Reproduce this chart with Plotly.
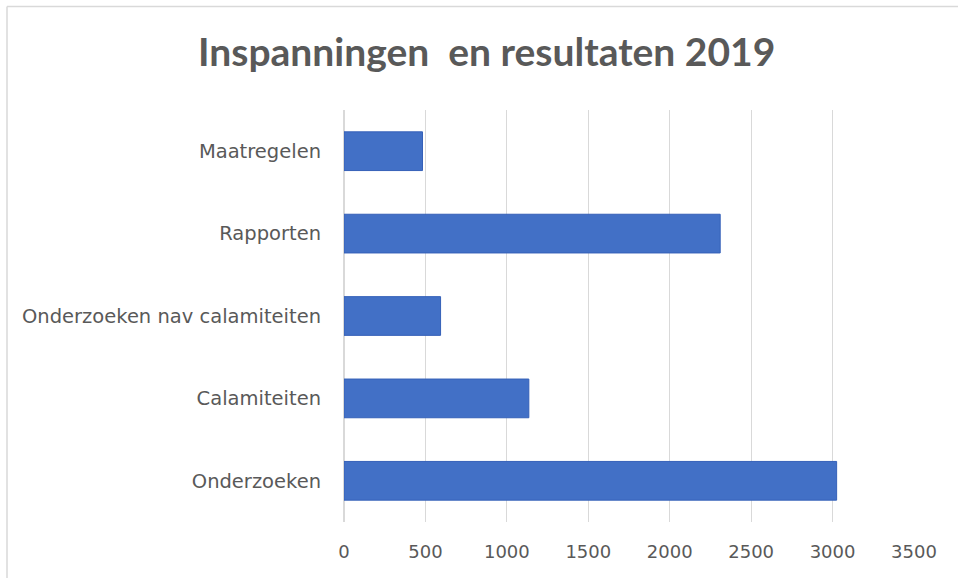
import plotly.graph_objects as go

categories = ["Onderzoeken", "Calamiteiten", "Onderzoeken nav calamiteiten", "Rapporten", "Maatregelen"]
values = [3025, 1135, 593, 2310, 482]
x_ticks = [0, 500, 1000, 1500, 2000, 2500, 3000, 3500]

W, H = 958, 578
ml, mr, mt, mb = 344, 44, 110, 56
pw, ph = W - ml - mr, H - mt - mb

fig = go.Figure()
fig.add_trace(go.Bar(
    y=categories, x=values, orientation="h",
    marker=dict(color="#4270c6", line=dict(color="#3560b8", width=1)),
))

# chart frame (top and left edges only, as in the screenshot)
px2x = lambda px: (px - ml) / pw
py2y = lambda py: (H - mb - py) / ph
fig.add_shape(type="line", xref="paper", yref="paper",
              x0=px2x(7), x1=px2x(W), y0=py2y(6.5), y1=py2y(6.5),
              line=dict(color="#d9d9d9", width=1.5))
fig.add_shape(type="line", xref="paper", yref="paper",
              x0=px2x(7), x1=px2x(7), y0=py2y(6.5), y1=py2y(H),
              line=dict(color="#d9d9d9", width=1.5))

fig.update_layout(
    width=W, height=H,
    margin=dict(l=ml, r=mr, t=mt, b=mb),
    paper_bgcolor="white", plot_bgcolor="white",
    bargap=0.53, showlegend=False,
    title=dict(text="<b>Inspanningen  en resultaten 2019</b>", x=0.508, xanchor="center",
               y=0.909, yanchor="middle",
               font=dict(family="Lato", size=39, color="#595959")),
    font=dict(family="DejaVu Sans", size=18, color="#595959"),
)
fig.update_xaxes(range=[0, 3500], tickvals=x_ticks, showgrid=True, gridcolor="#d9d9d9",
                 gridwidth=1, zeroline=True, zerolinecolor="#d9d9d9", showline=False,
                 ticks="", ticklabelstandoff=17, tickfont=dict(size=18, color="#595959"))
fig.update_yaxes(showgrid=False, showline=False, ticks="", ticklabelstandoff=22,
                 tickfont=dict(size=19.5, color="#595959"))

# page flush with the window, so the frame lines sit where they do in the reference
fig.write_html("out.html", config={"displayModeBar": False},
               post_script="document.body.style.margin='0';")
